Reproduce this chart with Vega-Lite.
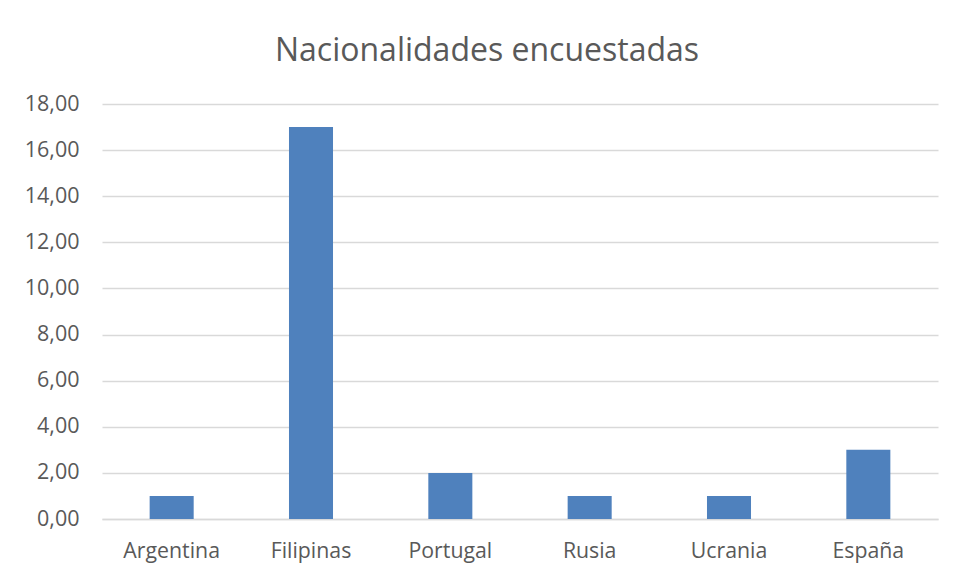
{
  "$schema": "https://vega.github.io/schema/vega-lite/v6.json",
  "width": 836,
  "height": 415,
  "autosize": {"type": "none"},
  "padding": {"left": 102, "top": 104, "right": 17, "bottom": 56},
  "background": "white",
  "title": {
    "text": "Nacionalidades encuestadas",
    "anchor": "middle",
    "frame": "group",
    "dx": -33,
    "offset": 25,
    "font": "Open Sans",
    "fontSize": 32,
    "fontWeight": "normal",
    "color": "#595959"
  },
  "data": {
    "values": [
      {"pais": "Argentina", "n": 1},
      {"pais": "Filipinas", "n": 17},
      {"pais": "Portugal", "n": 2},
      {"pais": "Rusia", "n": 1},
      {"pais": "Ucrania", "n": 1},
      {"pais": "España", "n": 3}
    ]
  },
  "mark": {"type": "bar", "color": "#4F81BD"},
  "encoding": {
    "x": {
      "field": "pais",
      "type": "nominal",
      "sort": null,
      "scale": {"paddingInner": 0.684, "paddingOuter": 0.342},
      "axis": {
        "title": null,
        "labelAngle": 0,
        "labelFont": "Open Sans",
        "labelFontSize": 21.3,
        "labelColor": "#595959",
        "labelPadding": 21,
        "ticks": false,
        "domainColor": "#D9D9D9",
        "domainWidth": 1.5
      }
    },
    "y": {
      "field": "n",
      "type": "quantitative",
      "scale": {"domain": [0, 18], "nice": false},
      "axis": {
        "title": null,
        "values": [0, 2, 4, 6, 8, 10, 12, 14, 16, 18],
        "labelExpr": "replace(format(datum.value, '.2f'), '.', ',')",
        "labelFont": "Open Sans",
        "labelFontSize": 21.5,
        "labelColor": "#595959",
        "labelPadding": 23,
        "ticks": false,
        "domain": false,
        "gridColor": "#D9D9D9",
        "gridWidth": 1.5
      }
    }
  },
  "config": {"view": {"stroke": null}}
}
